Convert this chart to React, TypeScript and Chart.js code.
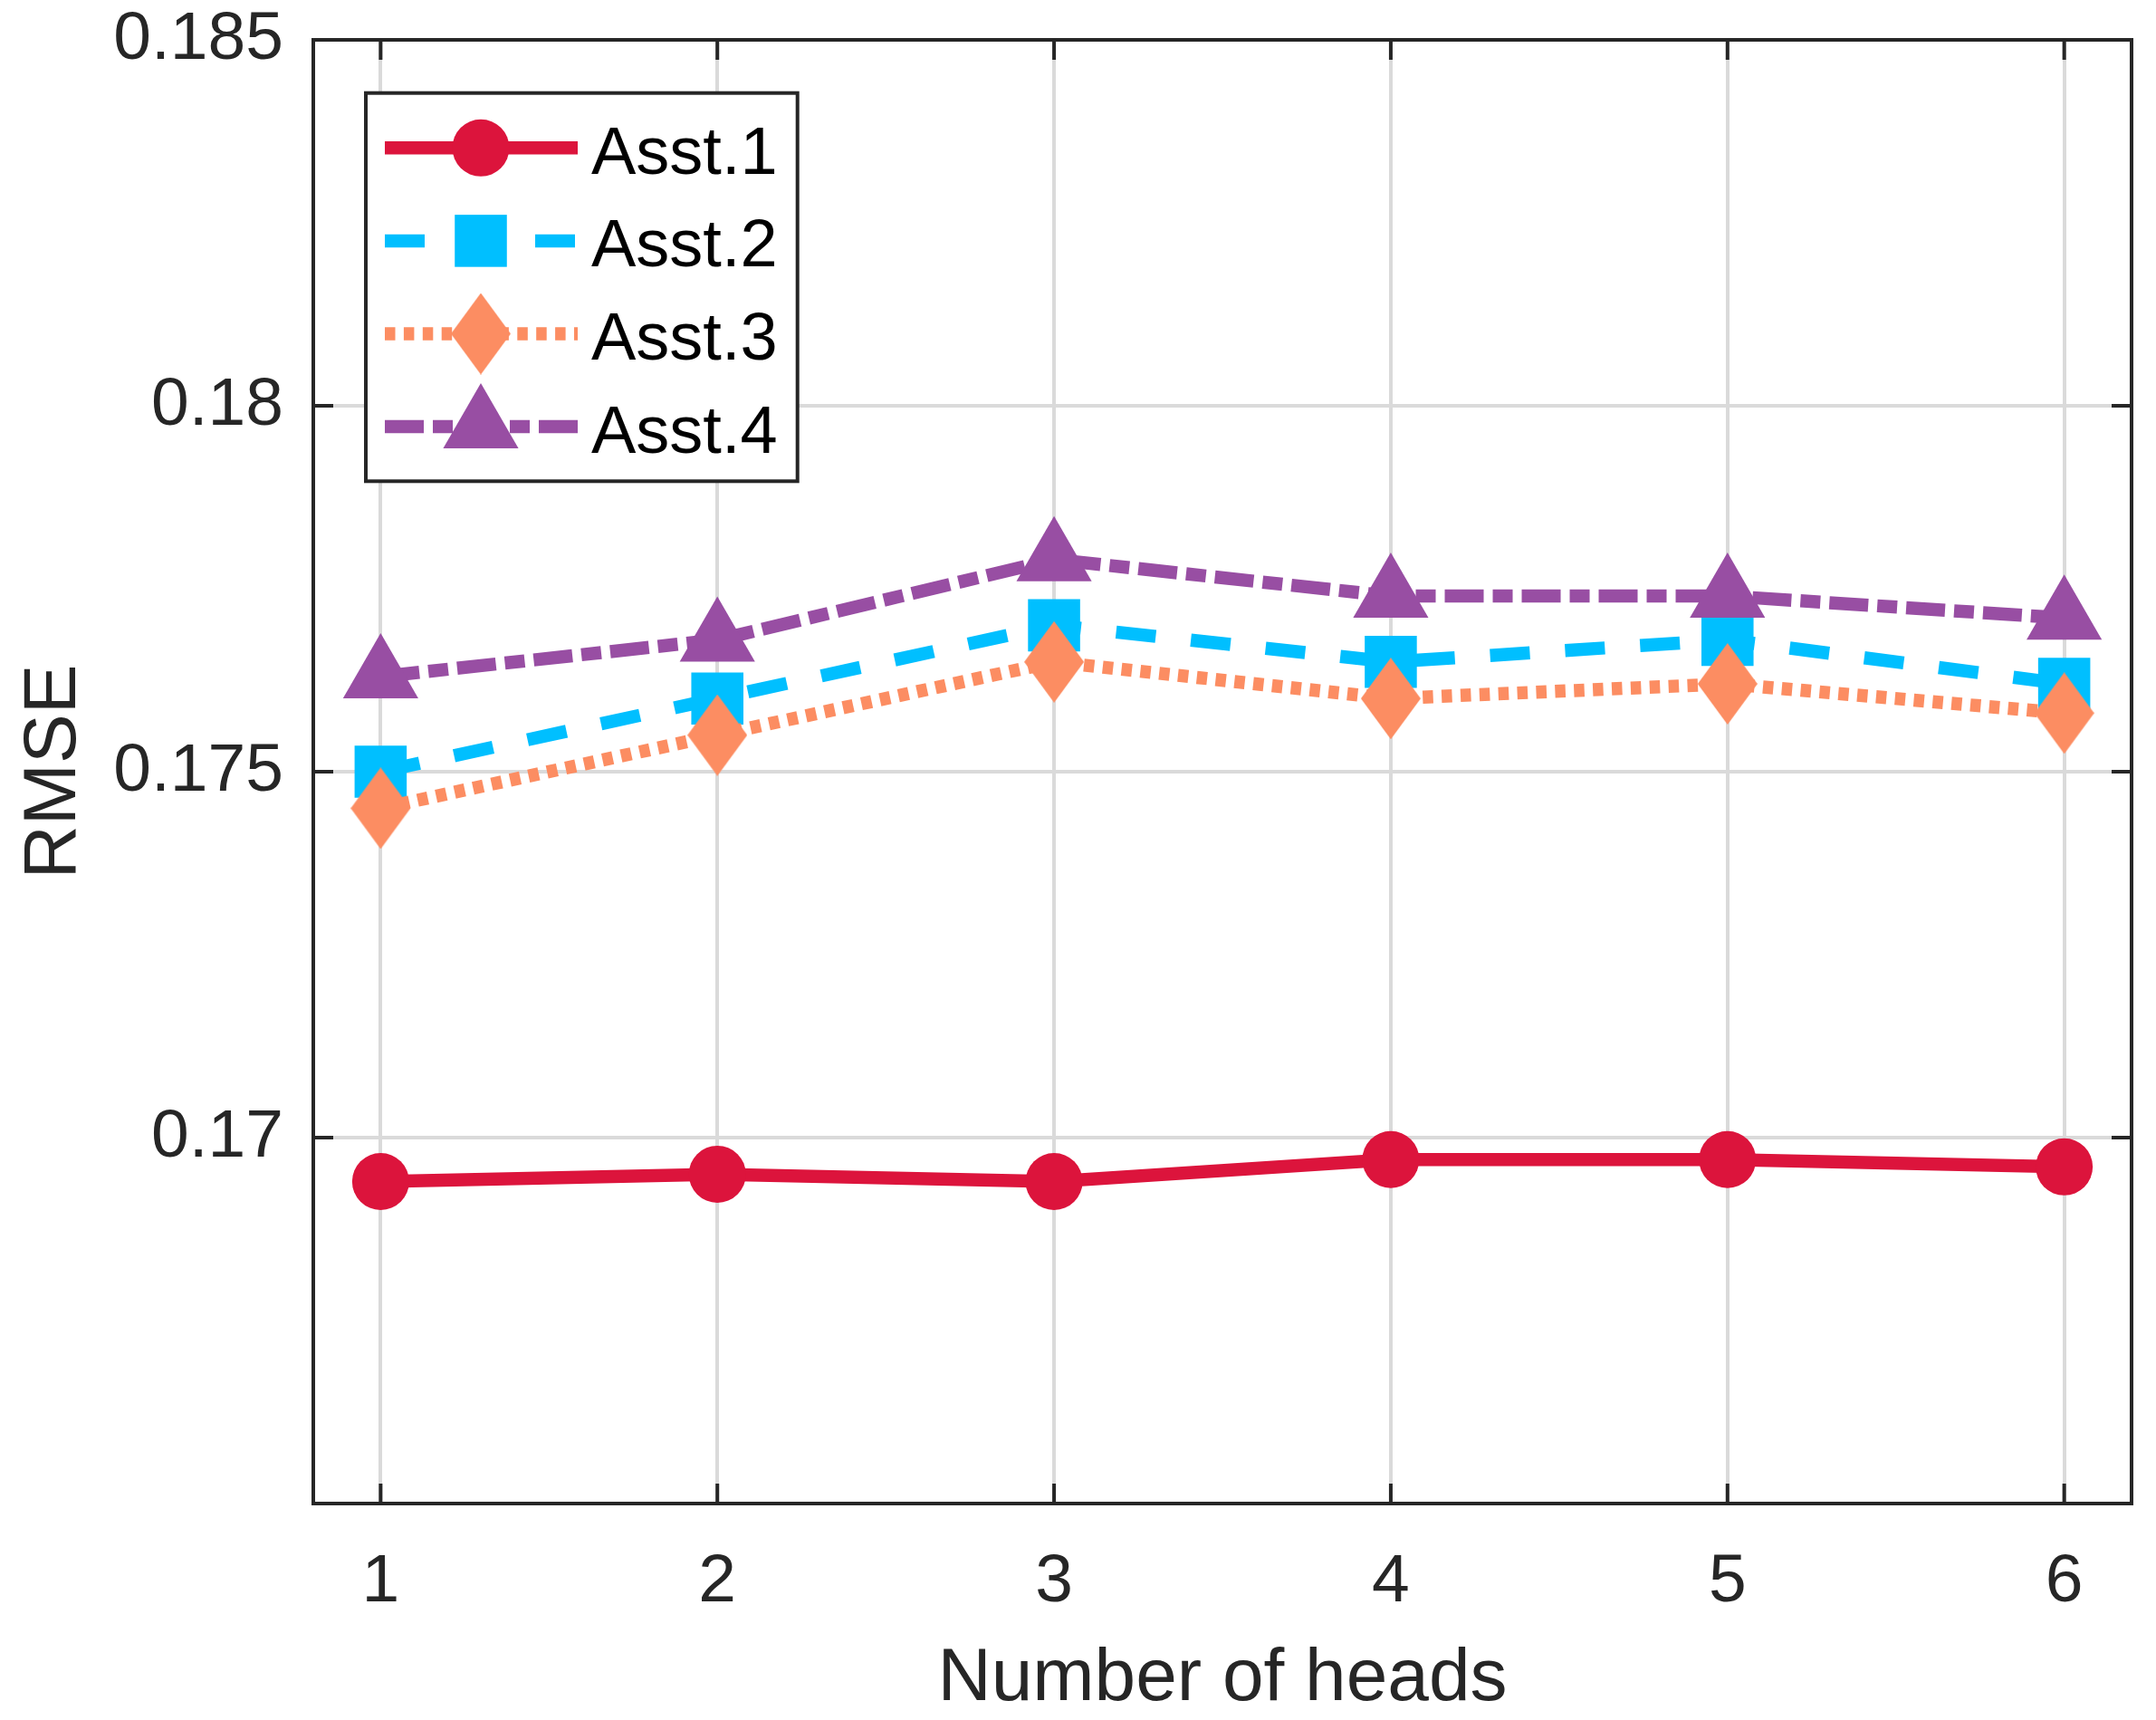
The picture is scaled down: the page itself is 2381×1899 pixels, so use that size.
import React, { useEffect, useRef } from 'react';
import { Chart, registerables } from 'chart.js';

Chart.register(...registerables);

// ---- data ----
const heads = [1, 2, 3, 4, 5, 6];
const asst1 = [0.1694, 0.1695, 0.1694, 0.1697, 0.1697, 0.1696];
const asst2 = [0.1750, 0.1760, 0.1770, 0.1765, 0.1768, 0.1762];
const asst3 = [0.1745, 0.1755, 0.1765, 0.1760, 0.1762, 0.1758];
const asst4 = [0.1763, 0.1768, 0.1779, 0.1774, 0.1774, 0.1771];
const seriesNames = ['Asst.1', 'Asst.2', 'Asst.3', 'Asst.4'];
const xTickValues = [1, 2, 3, 4, 5, 6];
const yTickValues = [0.17, 0.175, 0.18, 0.185];
const xTitle = 'Number of heads';
const yTitle = 'RMSE';

// ---- style ----
const W = 2381;
const H = 1899;
const FONT = '"Liberation Sans", Arial, Helvetica, sans-serif';
const AXIS = '#262626';
const GRID = '#dadada';
const RED = '#DC143C';
const BLUE = '#00BFFF';
const ORANGE = '#FC8D62';
const PURPLE = '#984EA3';
const LW = 14.5;

function makeDiamond(w: number, h: number, color: string) {
  const c = document.createElement('canvas');
  c.width = w;
  c.height = h;
  const g = c.getContext('2d')!;
  g.fillStyle = color;
  g.beginPath();
  g.moveTo(w / 2, 0);
  g.lineTo(w, h / 2);
  g.lineTo(w / 2, h);
  g.lineTo(0, h / 2);
  g.closePath();
  g.fill();
  return c;
}

function drawMarker(ctx: CanvasRenderingContext2D, style: any, r: number, x: number, y: number, color: string) {
  ctx.save();
  ctx.fillStyle = color;
  if (style && typeof style === 'object') {
    ctx.drawImage(style, x - style.width / 2, y - style.height / 2, style.width, style.height);
  } else if (style === 'circle') {
    ctx.beginPath();
    ctx.arc(x, y, r, 0, Math.PI * 2);
    ctx.fill();
  } else if (style === 'rect') {
    const s = Math.SQRT1_2 * r;
    ctx.fillRect(x - s, y - s, 2 * s, 2 * s);
  } else if (style === 'triangle') {
    ctx.beginPath();
    let a = 0;
    ctx.moveTo(x + Math.sin(a) * r, y - Math.cos(a) * r);
    a += (2 * Math.PI) / 3;
    ctx.lineTo(x + Math.sin(a) * r, y - Math.cos(a) * r);
    a += (2 * Math.PI) / 3;
    ctx.lineTo(x + Math.sin(a) * r, y - Math.cos(a) * r);
    ctx.closePath();
    ctx.fill();
  }
  ctx.restore();
}

const framePlugin = {
  id: 'matlabFrame',
  beforeDatasetsDraw(chart: any) {
    const { ctx, chartArea: a, scales } = chart;
    const xs = scales.x;
    const ys = scales.y;
    const TL = 22;
    ctx.save();
    ctx.strokeStyle = AXIS;
    ctx.lineWidth = 4;
    ctx.lineCap = 'butt';
    ctx.setLineDash([]);
    ctx.beginPath();
    xTickValues.forEach((v) => {
      const px = xs.getPixelForValue(v);
      ctx.moveTo(px, a.bottom);
      ctx.lineTo(px, a.bottom - TL);
      ctx.moveTo(px, a.top);
      ctx.lineTo(px, a.top + TL);
    });
    yTickValues.forEach((v) => {
      const py = ys.getPixelForValue(v);
      ctx.moveTo(a.left, py);
      ctx.lineTo(a.left + TL, py);
      ctx.moveTo(a.right, py);
      ctx.lineTo(a.right - TL, py);
    });
    ctx.stroke();
    ctx.strokeRect(a.left, a.top, a.right - a.left, a.bottom - a.top);
    ctx.restore();
  },
};

const legendPlugin = {
  id: 'matlabLegend',
  afterDraw(chart: any) {
    const ctx: CanvasRenderingContext2D = chart.ctx;
    const bx = 404, by = 102.7, bw = 476.7, bh = 428.6;
    ctx.save();
    ctx.fillStyle = '#ffffff';
    ctx.fillRect(bx, by, bw, bh);
    ctx.strokeStyle = AXIS;
    ctx.lineWidth = 4;
    ctx.setLineDash([]);
    ctx.strokeRect(bx, by, bw, bh);
    chart.data.datasets.forEach((ds: any, i: number) => {
      const rowY = 163.3 + i * 102.6;
      ctx.strokeStyle = ds.borderColor;
      ctx.lineWidth = ds.borderWidth;
      ctx.lineCap = 'butt';
      ctx.setLineDash(ds.borderDash || []);
      ctx.beginPath();
      ctx.moveTo(425, rowY);
      ctx.lineTo(638, rowY);
      ctx.stroke();
      ctx.setLineDash([]);
      drawMarker(ctx, ds.pointStyle, ds.pointRadius, 531, rowY, ds.pointBackgroundColor);
      ctx.fillStyle = '#000000';
      ctx.font = `74px ${FONT}`;
      ctx.textAlign = 'left';
      ctx.textBaseline = 'alphabetic';
      ctx.fillText(ds.label, 653, rowY + 28.4);
    });
    ctx.restore();
  },
};

const zeroPad = (s: any) => {
  s.paddingLeft = 0;
  s.paddingRight = 0;
  s.paddingTop = 0;
  s.paddingBottom = 0;
};

export default function App() {
  const ref = useRef<HTMLCanvasElement | null>(null);

  useEffect(() => {
    if (!ref.current) return;
    const diamond = makeDiamond(66, 90, ORANGE);
    const toXY = (arr: number[]) => heads.map((h, i) => ({ x: h, y: arr[i] }));
    const base = { borderWidth: LW, borderCapStyle: 'butt' as const, borderJoinStyle: 'miter' as const, pointBorderWidth: 0, tension: 0, clip: false as any };
    const chart = new Chart(ref.current, {
      type: 'line',
      data: {
        datasets: [
          { ...base, label: seriesNames[0], data: toXY(asst1), borderColor: RED, backgroundColor: RED, pointBackgroundColor: RED, pointStyle: 'circle', pointRadius: 31.5, pointHoverRadius: 31.5, borderDash: [], order: 4 },
          { ...base, label: seriesNames[1], data: toXY(asst2), borderColor: BLUE, backgroundColor: BLUE, pointBackgroundColor: BLUE, pointStyle: 'rect', pointRadius: 40.7, pointHoverRadius: 40.7, borderDash: [44, 39], order: 3 },
          { ...base, label: seriesNames[2], data: toXY(asst3), borderColor: ORANGE, backgroundColor: ORANGE, pointBackgroundColor: ORANGE, pointStyle: diamond as any, pointRadius: 40, pointHoverRadius: 40, borderDash: [11.5, 9.4], order: 2 },
          { ...base, label: seriesNames[3], data: toXY(asst4), borderColor: PURPLE, backgroundColor: PURPLE, pointBackgroundColor: PURPLE, pointStyle: 'triangle', pointRadius: 48, pointHoverRadius: 48, borderDash: [43, 10, 22, 10], order: 1 },
        ] as any,
      },
      options: {
        animation: false,
        responsive: false,
        devicePixelRatio: 1,
        events: [],
        layout: { autoPadding: false, padding: { top: 44, right: 27, bottom: 0, left: 0 } },
        plugins: { legend: { display: false }, tooltip: { enabled: false } },
        scales: {
          x: {
            type: 'linear',
            min: 0.8,
            max: 6.2,
            afterBuildTicks: (s: any) => { s.ticks = xTickValues.map((v) => ({ value: v })); },
            afterFit: (s: any) => {
              s.height = H - 1660;
              zeroPad(s);
            },
            ticks: {
              callback: (v: any) => String(v),
              font: { family: FONT, size: 75, lineHeight: 1 },
              color: AXIS,
              padding: 0,
              maxRotation: 0,
              autoSkip: false,
            },
            grid: { color: GRID, lineWidth: 4, drawTicks: true, tickLength: 50, tickColor: 'rgba(0,0,0,0)' },
            border: { display: false },
            title: {
              display: true,
              text: xTitle,
              color: AXIS,
              font: { family: FONT, size: 82, lineHeight: 1 },
              padding: { top: 0, bottom: 4 },
            },
          },
          y: {
            type: 'linear',
            min: 0.165,
            max: 0.185,
            afterBuildTicks: (s: any) => { s.ticks = yTickValues.map((v) => ({ value: v })); },
            afterFit: (s: any) => {
              s.width = 346;
              zeroPad(s);
            },
            ticks: {
              callback: (v: any) => String(Number(Number(v).toFixed(3))),
              font: { family: FONT, size: 75, lineHeight: 1 },
              color: AXIS,
              padding: 0,
              autoSkip: false,
            },
            grid: { color: GRID, lineWidth: 4, drawTicks: true, tickLength: 33, tickColor: 'rgba(0,0,0,0)' },
            border: { display: false },
            title: {
              display: true,
              text: yTitle,
              color: AXIS,
              font: { family: FONT, size: 82, lineHeight: 1 },
              padding: { top: 19, bottom: 0 },
            },
          },
        },
      } as any,
      plugins: [framePlugin, legendPlugin],
    });
    return () => chart.destroy();
  }, []);

  return (
    <div style={{ position: 'fixed', left: 0, top: 0, width: W, height: H, background: '#ffffff' }}>
      <canvas ref={ref} width={W} height={H} style={{ display: 'block', width: W, height: H }} />
    </div>
  );
}
